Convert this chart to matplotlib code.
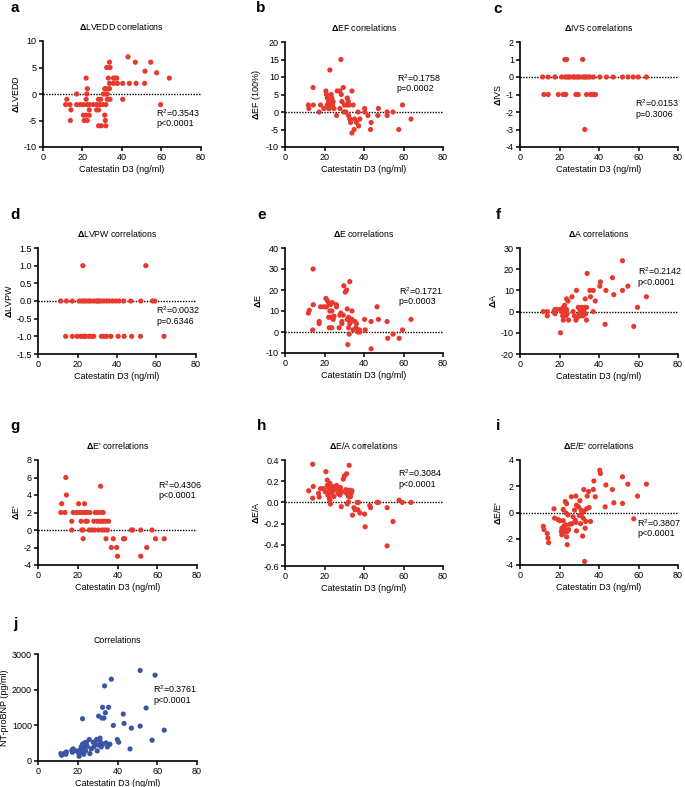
import numpy as np
import matplotlib

matplotlib.use("Agg")
import matplotlib.pyplot as plt

plt.rcParams["font.family"] = ["Liberation Sans", "DejaVu Sans"]
plt.rcParams["mathtext.fontset"] = "custom"
plt.rcParams["mathtext.rm"] = "Liberation Sans"
plt.rcParams["mathtext.bf"] = "Liberation Sans:bold"

RED = "#E8392F"
BLUE = "#3A55A5"

# a: dLVEDD
x_a = [12.2, 11.6, 13.8, 14.3, 14.0, 17.2, 17.2, 19.0, 20.6, 22.0, 22.6, 22.3, 22.0, 22.6, 23.6,
       20.6, 22.0, 21.0, 22.6, 23.6, 23.6, 25.6, 27.3, 28.2, 27.3, 28.3, 28.3, 29.7, 29.0, 29.4,
       30.4, 30.7, 31.4, 31.7, 31.4, 31.7, 32.0, 32.0, 32.4, 32.7, 32.7, 32.4, 33.8, 34.1, 33.2,
       33.8, 33.8, 34.1, 35.8, 36.6, 37.5, 35.8, 37.8, 40.5, 40.5, 43.2, 43.9, 46.9, 47.3, 51.8,
       51.6, 54.7, 57.7, 59.7, 64.1]
y_a = [-1, -2, -2, -3, -5, 0, -2, -2, -2, 3, 1, 0, -1, -2, -2,
       -4, -4, -5, -5, -3, -4, -2, -2, -1, -3, -3, -6, -6, -2, -1,
       -2, 0, 1, 0, -4, -5, -6, -2, 1, -1, 0, 5, 6, 5, 3,
       2, 1, -1, 3, 3, 3, 2, 2, 2, -1, 7, 2, 6, 2, 4.3,
       2, 6, 4, -2, 3]

# b: dEF
x_b = [11.8, 12.1, 14.2, 14.3, 17.3, 18.0, 19.7, 20.7, 21.0, 21.4, 21.4, 22.1, 22.4, 22.7, 23.0,
       23.4, 23.7, 22.1, 24.0, 24.8, 24.4, 26.1, 26.4, 27.7, 27.8, 28.3, 28.5, 28.8, 29.5, 29.8,
       30.1, 30.8, 31.5, 31.5, 32.0, 32.2, 32.5, 32.8, 33.2, 33.9, 33.9, 34.5, 35.0, 35.2, 36.2,
       37.0, 37.3, 37.9, 40.3, 40.4, 42.0, 43.3, 43.6, 47.0, 47.3, 51.7, 51.7, 54.7, 57.6, 59.5,
       63.8]
y_b = [2, 1, 7, 2, 0, 2, 1, 6, 5, 4, 2, 3, 1, 12, 2,
       5, 4, 1, 2, 1, 3, -1, 6, 6, 1, 15, 5, 3, 7, 0,
       2, 0, 4, 2, 3, -1, 2, -2, -3, 6, -6, 2, -5, -2, -3,
       0, -4, -2, 1, 0, -1, -5, -3, -1, 1, 0, -1, 0, -5, 2,
       -2]

# c: dIVS
x_c = [22.7, 23.6, 31.7,
       11.5, 14.3, 17.7, 21.1, 22.7, 23.6, 24.5, 25.3, 26.9, 27.5, 28.6, 29.5, 30.3, 31.7, 32.5,
       33.3, 34.2, 35.4, 37.1, 40.4, 43.8, 47.2, 51.9, 54.7, 57.3, 59.8, 64.0,
       12.1, 14.3, 19.4, 21.9, 23.2, 28.3, 29.5, 33.7, 35.7, 37.1, 38.2,
       32.8]
y_c = [1, 1, 1,
       0, 0, 0, 0, 0, 0, 0, 0, 0, 0, 0, 0, 0, 0, 0,
       0, 0, 0, 0, 0, 0, 0, 0, 0, 0, 0, 0,
       -1, -1, -1, -1, -1, -1, -1, -1, -1, -1, -1,
       -3]

# d: dLVPW
x_d = [22.7, 54.6,
       11.5, 14.4, 17.4, 20.8, 22.0, 23.2, 24.2, 25.5, 26.6, 28.2, 29.6, 30.3, 31.0, 32.1, 33.3,
       34.7, 36.0, 37.7, 39.4, 41.0, 43.4, 47.0, 52.1, 58.0, 59.2,
       14.0, 17.4, 19.8, 21.6, 22.8, 23.5, 24.2, 25.9, 27.0, 28.2, 32.1, 33.3, 34.7, 36.9, 40.6,
       43.6, 47.4, 51.9, 63.8]
y_d = [1, 1,
       0, 0, 0, 0, 0, 0, 0, 0, 0, 0, 0, 0, 0, 0, 0,
       0, 0, 0, 0, 0, 0, 0, 0, 0, 0,
       -1, -1, -1, -1, -1, -1, -1, -1, -1, -1, -1, -1, -1, -1, -1,
       -1, -1, -1, -1]

# e: dE
x_e = [11.8, 12.3, 14.2, 14.3, 14.0, 17.3, 17.3, 18.0, 19.7, 20.7, 21.4, 21.0, 22.1, 22.1, 22.4,
       22.7, 23.0, 23.4, 23.7, 23.7, 24.0, 24.4, 24.8, 26.0, 26.1, 27.4, 27.8, 28.3, 28.8, 28.8,
       29.5, 29.8, 30.5, 31.2, 31.5, 31.5, 31.8, 32.2, 32.2, 32.5, 32.8, 32.8, 33.2, 33.9, 33.9,
       34.5, 35.4, 35.9, 36.2, 37.0, 37.6, 37.9, 40.3, 40.6, 43.6, 43.6, 46.6, 47.3, 51.7, 52.0,
       54.7, 57.8, 59.5, 63.8]
y_e = [9, 10.3, 30, 13, 1, 4, 5, 12, 12, 16, 15, 12, 14, 7, 2,
       10, 13, 7, 10, 2, 14, 6, 7.5, 13, 12, 2, 8, 9, 4, 5,
       8, 22, 19, 20, 11, 6, -6, 7, 2, -1, 24, 4, 5, 10, 6,
       1, 5, 2, 4, 0, 1, 0, 6, 1, -8, 5, 12, 6, 5, -3,
       -1, -3, 1, 6]

# f: dA
x_f = [11.8, 13.8, 13.8, 17.2, 17.7, 17.7, 18.5, 20.2, 20.5, 21.2, 21.6, 21.9, 21.9, 22.6, 23.2,
       23.2, 23.6, 23.6, 24.3, 24.6, 23.9, 26.3, 26.9, 27.6, 28.3, 28.6, 28.8, 29.5, 30.0, 30.3,
       30.7, 31.3, 31.7, 32.0, 32.3, 32.7, 33.0, 33.3, 33.7, 34.0, 33.7, 35.4, 35.7, 37.1, 37.1,
       38.1, 40.4, 40.7, 43.1, 43.5, 46.8, 47.5, 51.9, 51.9, 54.6, 57.6, 59.5, 64.0]
y_f = [0, 0, -2, 0, -1, 1, 1, 1, -10, 0, -2, -4, 2, 3, 0,
       -2, 1, 6, 5, -4, -1, 7, 0, -2, -4, 10, -3, 2, -1, 1,
       -2, 2, 0, -2, 1, 2, 6, -1, -4, 18, 2, 10, 7, 10, 0,
       5, 12, 14, -6, 10, 16, 8, 24, 10, 12, -7, 2, 7]

# g: dE'
x_g = [11.5, 11.9, 13.6, 14.0, 14.3, 17.0, 17.0, 17.7, 19.4, 20.4, 21.0, 21.7, 22.0, 22.4, 22.7,
       22.7, 23.4, 23.7, 24.0, 24.4, 24.8, 25.8, 26.1, 27.1, 28.1, 28.5, 28.8, 29.8, 30.1, 30.5,
       31.2, 31.5, 31.8, 32.2, 32.5, 32.8, 33.5, 33.9, 34.2, 34.9, 35.5, 36.9, 37.9, 39.6, 40.0,
       43.0, 43.6, 47.0, 47.7, 51.7, 51.7, 54.7, 57.4, 59.1, 63.5]
y_g = [2, 3, 2, 6, 4, 1, 0, 2, 2, 3, 2, 1, 0, 2, 0,
       -1, 3, 2, 1, 2, 1, 0, 2, 0, 1, 0, 2, 1, 2, 0,
       1, 5, 2, 0, 1, 2, 0, 1, -1, 0, 1, -2, -1, -2, -3,
       -1, -1, 0, 0, 0, -3, -2, 0, -1, -1]

# h: dE/A
x_h = [12.0, 14.0, 14.3, 14.0, 17.0, 17.3, 18.0, 19.4, 20.4, 20.7, 21.4, 21.4, 21.7, 22.1, 22.4,
       22.4, 22.7, 23.0, 22.7, 23.4, 23.7, 24.0, 24.4, 24.8, 25.4, 26.1, 26.4, 26.8, 27.5, 27.8,
       28.1, 28.5, 28.8, 29.5, 30.1, 30.8, 31.2, 31.2, 31.5, 31.8, 32.2, 32.2, 32.5, 32.8, 33.2,
       33.5, 33.9, 34.2, 34.9, 35.5, 36.5, 37.2, 36.9, 37.9, 40.3, 40.6, 42.9, 43.3, 46.6, 47.3,
       51.7, 51.7, 54.7, 57.8, 59.4, 63.8]
y_h = [0.11, 0.36, 0.15, 0.04, 0.085, 0.05, 0.13, 0.13, 0.10, 0.29, 0.21, 0.16, 0.07, 0.135, 0.10,
       0.04, 0.02, -0.015, 0.18, 0.12, 0.085, 0.15, 0.11, 0.055, 0.13, 0.16, 0.135, 0.085, 0.11, 0.07,
       0.14, -0.04, 0.10, 0.22, 0.25, 0.12, 0.27, 0.085, -0.015, 0.10, 0.055, 0.005, 0.35, 0.115, 0.055,
       0.085, 0.11, -0.12, -0.05, -0.07, 0.0, 0.0, -0.07, -0.10, -0.11, -0.23, -0.03, -0.05, 0.0, 0.0,
       -0.05, -0.41, -0.18, 0.02, 0.0, 0.0]

# i: dE/E'
x_i = [11.8, 12.1, 13.8, 14.1, 14.5, 17.2, 17.5, 19.2, 20.2, 20.9, 21.2, 21.2, 21.9, 21.9, 22.2,
       22.6, 22.9, 22.9, 23.2, 23.2, 23.6, 23.6, 23.9, 23.9, 24.3, 24.6, 25.3, 26.0, 26.3, 26.9,
       27.6, 28.0, 28.3, 28.6, 28.6, 28.3, 29.6, 30.0, 30.3, 30.7, 31.0, 31.3, 31.7, 32.0, 32.3,
       32.3, 32.7, 33.0, 33.3, 33.7, 34.0, 34.7, 35.0, 35.7, 37.1, 37.4, 38.1, 40.4, 40.7, 43.1,
       43.5, 46.8, 47.5, 51.9, 51.9, 54.6, 57.6, 59.5, 64.0]
y_i = [-1.05, -1.3, -1.6, -1.95, -2.3, 0.28, -0.43, -0.53, -0.63, -1.45, -1.7, -1.2, 0.23, -0.63, -1.05,
       -1.5, -1.3, 0.83, -0.03, -0.95, -1.85, 0.68, -1.45, -2.45, -0.18, -1.3, -0.9, 1.2, -0.85, -0.33,
       0.18, -0.6, 1.25, 0.55, -1.4, -0.75, 0.43, -0.23, 0.9, -0.85, 0.18, -0.08, -1.8, -0.43, 1.75,
       0.08, -3.73, -1.2, -0.68, 0.28, 1.25, 1.6, 0.38, -0.68, 1.75, 2.4, 1.2, 3.22, 2.97, 0.43,
       2.1, 1.75, 0.74, 2.72, 0.69, 2.16, -0.48, 1.25, 2.16]

# j: NT-proBNP
x_j = [11.5, 11.9, 13.6, 14.0, 14.3, 17.0, 17.3, 17.7, 19.4, 20.4, 20.7, 21.0, 21.7, 22.0, 22.4,
       22.4, 22.7, 23.0, 23.4, 23.7, 24.0, 24.4, 24.8, 25.8, 26.1, 26.8, 27.8, 28.1, 28.8, 29.5,
       29.8, 30.1, 30.5, 31.2, 31.5, 31.8, 32.2, 32.5, 32.5, 33.2, 33.5, 33.9, 34.2, 34.9, 35.5,
       36.2, 36.9, 37.9, 39.9, 40.6, 42.9, 43.3, 46.3, 47.0, 51.4, 51.4, 54.4, 57.4, 58.9, 63.5]
y_j = [207, 160, 226, 188, 254, 301, 244, 339, 282, 226, 132, 301, 395, 244, 1185,
       470, 320, 188, 508, 395, 282, 527, 414, 602, 207, 339, 527, 395, 470, 602,
       282, 451, 1260, 640, 527, 395, 1204, 1505, 470, 1204, 2106, 1354, 508, 395, 1505,
       470, 2294, 997, 602, 527, 1316, 1053, 339, 922, 2539, 978, 1486, 583, 2407, 865]

DELTA = r"$\mathbf{\Delta}$"

# letter, title, ylabel, x, y, ylim, yticks, yfmt, stats, color, box(px: l, r, top, bottom), stats pos
PANELS = [
    ("a", DELTA + "LVEDD correlations", DELTA + "LVEDD", x_a, y_a, (-10, 10), np.arange(-10, 11, 5), "{:.0f}",
     ("0.3543", "p<0.0001"), RED, (42.7, 200.7, 41, 147), (0.72, 0.32)),
    ("b", DELTA + "EF correlations", DELTA + "EF (100%)", x_b, y_b, (-10, 20), np.arange(-10, 21, 5), "{:.0f}",
     ("0.1758", "p=0.0002"), RED, (285, 443, 42, 147), (0.707, 0.66)),
    ("c", DELTA + "IVS correlations", DELTA + "IVS", x_c, y_c, (-4, 2), np.arange(-4, 3, 1), "{:.0f}",
     ("0.0153", "p=0.3006"), RED, (520, 678, 42, 147), (0.73, 0.415)),
    ("d", DELTA + "LVPW correlations", DELTA + "LVPW", x_d, y_d, (-1.5, 1.5), np.arange(-1.5, 1.6, 0.5), "{:.1f}",
     ("0.0032", "p=0.6346"), RED, (38, 196, 248, 354), (0.75, 0.41)),
    ("e", DELTA + "E correlations", DELTA + "E", x_e, y_e, (-10, 40), np.arange(-10, 41, 10), "{:.0f}",
     ("0.1721", "p=0.0003"), RED, (285, 443, 248, 353), (0.72, 0.59)),
    ("f", DELTA + "A correlations", DELTA + "A", x_f, y_f, (-20, 30), np.arange(-20, 31, 10), "{:.0f}",
     ("0.2142", "p<0.0001"), RED, (520, 678, 248, 354), (0.745, 0.78)),
    ("g", DELTA + "E' correlations", DELTA + "E'", x_g, y_g, (-4, 8), np.arange(-4, 9, 2), "{:.0f}",
     ("0.4306", "p<0.0001"), RED, (38, 197, 460, 565), (0.755, 0.76)),
    ("h", DELTA + "E/A correlations", DELTA + "E/A", x_h, y_h, (-0.6, 0.4), np.arange(-0.6, 0.41, 0.2), "{:.1f}",
     ("0.3084", "p<0.0001"), RED, (285, 443, 460, 566), (0.715, 0.875)),
    ("i", DELTA + "E/E' correlations", DELTA + "E/E'", x_i, y_i, (-4, 4), np.arange(-4, 5, 2), "{:.0f}",
     ("0.3807", "p<0.0001"), RED, (520, 678, 460, 565), (0.74, 0.40)),
    ("j", "Correlations", "NT-proBNP (pg/ml)", x_j, y_j, (0, 3000), np.arange(0, 3001, 1000), "{:.0f}",
     ("0.3761", "p<0.0001"), BLUE, (38, 197, 654, 761), (0.725, 0.67)),
]

W, H = 685, 787
fig = plt.figure(figsize=(W / 100, H / 100), dpi=100)

for letter, title, ylab, xs, ys, ylim, yt, yfmt, stats, color, box, spos in PANELS:
    l, r, t, b = box
    ax = fig.add_axes([l / W, 1 - b / H, (r - l) / W, (b - t) / H])
    ax.scatter(xs, ys, s=14, color=color, edgecolor="none", zorder=3, clip_on=False)
    if letter != "j":
        ax.axhline(0, color="black", lw=1.0, ls=(0, (1, 1)), zorder=2)
    ax.set_xlim(0, 80)
    ax.set_ylim(*ylim)
    ax.set_xticks([0, 20, 40, 60, 80])
    ax.set_yticks(yt)
    ax.set_yticklabels([yfmt.format(v).replace("-0.0", "0.0") for v in yt])
    for side in ("top", "right"):
        ax.spines[side].set_visible(False)
    for side in ("left", "bottom"):
        ax.spines[side].set_linewidth(1.2)
    ax.tick_params(direction="out", length=2.8, width=1.1, labelsize=6.5, pad=1.5)
    ax.set_xlabel("Catestatin D3 (ng/ml)", fontsize=6.5, labelpad=2)
    ax.set_ylabel(ylab, fontsize=6.5, labelpad=2)
    ax.set_title(title, fontsize=6.3, pad=8)
    ax.text(spos[0], spos[1], r"R$^{2}$=" + stats[0], transform=ax.transAxes,
            fontsize=6.4, va="center", ha="left")
    ax.text(spos[0], spos[1] - 0.102, stats[1], transform=ax.transAxes,
            fontsize=6.4, va="center", ha="left")

LETTERS = {"a": (15, 8), "b": (261, 8), "c": (498, 9), "d": (15, 215), "e": (262, 215),
           "f": (498, 215), "g": (15, 426), "h": (262, 426), "i": (498, 426), "j": (15, 624)}
for k, (px, py) in LETTERS.items():
    fig.text(px / W, 1 - py / H, k, fontsize=11, fontweight="bold", ha="center", va="center")

fig.savefig("out.png", dpi=100)
